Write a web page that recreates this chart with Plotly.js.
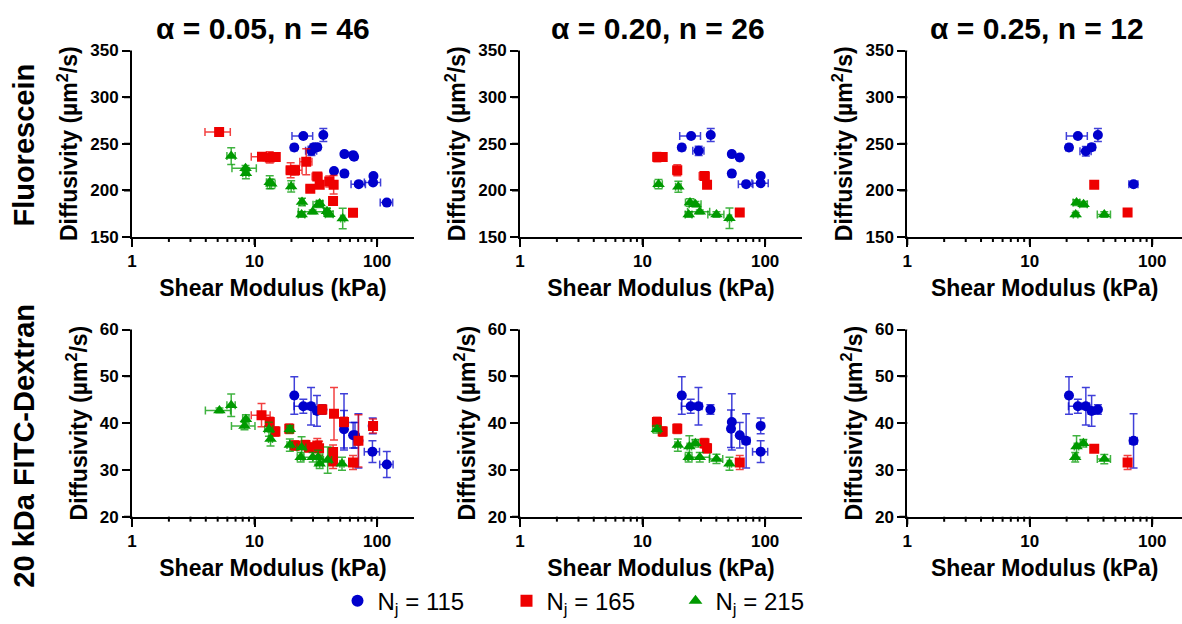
<!DOCTYPE html>
<html>
<head>
<meta charset="utf-8">
<script src="https://cdn.plot.ly/plotly-3.0.1.min.js"></script>
<style>html,body{margin:0;padding:0;background:#fff;}#chart{width:1182px;height:624px;}</style>
</head>
<body>
<div id="chart"></div>
<script>
// ---------- Data ----------
const groupNames = ["N<sub>j</sub> = 115", "N<sub>j</sub> = 165", "N<sub>j</sub> = 215"];
const columnTitles = ["α = 0.05, n = 46", "α = 0.20, n = 26", "α = 0.25, n = 12"];
const rowTitles = ["Fluorescein", "20 kDa FITC-Dextran"];
const xTickVals = [1, 10, 100];
const xTickText = ["1", "10", "100"];
const xMinorVals = [2, 3, 4, 5, 6, 7, 8, 9, 20, 30, 40, 50, 60, 70, 80, 90];
const yTickValsTop = [150, 200, 250, 300, 350];
const yTickValsBottom = [20, 30, 40, 50, 60];

// Fluorescein, alpha = 0.05
const fA_b_x = [25.0, 36.4, 21.1, 29.1, 30.5, 32.5, 54.1, 63.7, 64.9, 44.5, 54.1, 70.8, 93.3, 92.7, 120];
const fA_b_y = [258.3, 259.4, 246.0, 242.4, 246.3, 246.3, 238.9, 237.8, 236.1, 220.8, 218.0, 206.7, 215.5, 208.5, 186.9];
const fA_b_xe = [4.8, 1.5, 1.2, 3, 2, 2, 2.5, 3, 3, 1.5, 2, 9.5, 3, 14, 14];
const fA_b_ye = [2, 7, 2, 5, 3, 2, 2, 2, 2, 2, 3, 2, 2, 2, 2];
const fA_r_x = [5.14, 11.5, 13.3, 14.2, 14.9, 19.7, 21.4, 26.4, 28.5, 32.5, 34.0, 40.7, 44.2, 43.7, 63.6];
const fA_r_y = [262.6, 236.1, 235.3, 235.7, 235.7, 221.6, 221.6, 230.7, 201.7, 214.8, 206.0, 209.5, 206.0, 188.6, 175.9];
const fA_r_xe = [1.2, 2.1, 1.5, 1, 1, 1.5, 3, 3, 2, 3, 2, 2, 2, 1.5, 2];
const fA_r_ye = [2, 2, 6, 3, 3, 8, 5, 14, 2, 3, 3, 6, 10, 3, 2];
const fA_g_x = [6.45, 8.44, 8.5, 13.3, 13.7, 19.9, 24.4, 24.2, 29.8, 33.0, 34.0, 39.0, 40.8, 52.4];
const fA_g_y = [236.8, 223.7, 218.4, 208.8, 207.0, 204.2, 187.6, 174.1, 177.0, 184.7, 185.8, 177.7, 174.5, 169.9];
const fA_g_xe = [0.5, 1.9, 0.5, 0.8, 1, 1, 1, 1.5, 7, 3, 2, 2, 3, 2];
const fA_g_ye = [9, 3, 6, 7, 5, 6, 4, 3, 2, 3, 3, 3, 3, 11];

// Fluorescein, alpha = 0.20
const fB_b_x = [24.9, 36.0, 20.9, 28.7, 53.5, 62.1, 53.5, 70.0, 92.0, 92.0];
const fB_b_y = [258.4, 259.4, 246.0, 242.4, 238.9, 235.3, 218.0, 206.7, 215.5, 207.7];
const fB_b_xe = [4.8, 1.5, 1.2, 3, 2.5, 3, 2, 9.5, 3, 14];
const fB_b_ye = [2, 7, 2, 5, 2, 2, 3, 2, 2, 2];
const fB_r_x = [13.2, 14.6, 19.2, 32.0, 33.6, 62.1];
const fB_r_y = [235.7, 235.7, 221.6, 215.5, 206.0, 176.3];
const fB_r_xe = [1, 1, 1.5, 3, 2, 2];
const fB_r_ye = [5, 3, 6, 2, 3, 2];
const fB_g_x = [13.5, 19.6, 24.4, 27.0, 23.8, 29.3, 40.1, 51.2];
const fB_g_y = [206.7, 203.9, 186.9, 185.1, 174.1, 177.0, 174.1, 170.2];
const fB_g_xe = [1, 1, 2, 3, 1.5, 6, 6, 2];
const fB_g_ye = [5, 6, 4, 3, 3, 2, 3, 11];

// Fluorescein, alpha = 0.25
const fC_b_x = [24.7, 36.0, 20.9, 28.7, 32.0, 70.4];
const fC_b_y = [258.4, 259.4, 246.0, 242.0, 246.3, 206.7];
const fC_b_xe = [4.8, 1.5, 1.2, 3, 2, 6];
const fC_b_ye = [2, 7, 2, 5, 3, 2];
const fC_r_x = [33.6, 62.9];
const fC_r_y = [206.0, 176.3];
const fC_r_xe = [1.5, 2];
const fC_r_ye = [2, 2];
const fC_g_x = [24.1, 27.5, 23.7, 40.6];
const fC_g_y = [186.9, 185.1, 174.1, 174.1];
const fC_g_xe = [1.5, 2, 1, 5];
const fC_g_ye = [3, 3, 2, 3];

// 20 kDa FITC-Dextran, alpha = 0.05
const dA_b_x = [21.1, 25.0, 28.9, 32.3, 35.8, 53.7, 53.7, 63.7, 66.0, 70.4, 92.0, 91.6, 120];
const dA_b_y = [45.9, 43.6, 43.6, 42.6, 42.9, 40.25, 38.7, 37.4, 37.4, 36.2, 39.4, 33.9, 31.15];
const dA_b_xe = [1, 4, 2, 2, 1.5, 2, 2, 2, 2, 5, 2, 13, 15];
const dA_b_ye = [4, 1.5, 4, 3.3, 1, 6, 4, 2.7, 2.7, 5.8, 1.7, 2.3, 2.8];
const dA_r_x = [11.4, 13.3, 14.8, 19.2, 21.4, 26.0, 27.8, 32.5, 33.6, 35.7, 44.5, 43.7, 43.7, 53.7, 70.4, 63.6, 92.7];
const dA_r_y = [41.7, 40.25, 38.2, 38.8, 35.2, 35.3, 34.8, 35.2, 34.6, 42.9, 42.0, 33.8, 31.8, 40.25, 36.2, 31.6, 39.4];
const dA_r_xe = [2, 1, 1, 1, 1.5, 2, 2, 2, 2, 1.5, 2, 2, 2, 2, 4, 2, 2];
const dA_r_ye = [2.5, 1, 1, 1, 1, 1, 1, 1.5, 1.5, 1, 5.6, 1.5, 1.5, 1, 5.6, 1.5, 1.5];
const dA_g_x = [5.17, 6.45, 8.28, 8.5, 13.1, 13.5, 19.4, 19.4, 23.8, 24.2, 29.8, 33.0, 34.0, 39.5, 51.7];
const dA_g_y = [42.7, 43.8, 39.4, 40.8, 38.7, 36.6, 38.7, 35.3, 32.7, 34.8, 32.7, 32.7, 31.3, 32.1, 31.3];
const dA_g_xe = [1.2, 0.5, 1.8, 0.5, 1, 0.5, 1, 1, 1.5, 2, 5, 3, 2, 3, 2];
const dA_g_ye = [0.5, 2.4, 0.8, 1, 1.5, 1.5, 0.8, 1.3, 1, 2.3, 1, 1.5, 1, 2.8, 1.4];

// 20 kDa FITC-Dextran, alpha = 0.20
const dB_b_x = [20.9, 24.7, 28.6, 35.8, 53.5, 52.7, 62.1, 70.0, 92.0, 92.0];
const dB_b_y = [45.9, 43.6, 43.6, 42.9, 40.25, 38.8, 37.4, 36.2, 39.4, 33.9];
const dB_b_xe = [1, 4, 2, 1.5, 2, 2, 2, 5, 2, 13];
const dB_b_ye = [4, 1.5, 4, 1, 6, 4, 2.7, 5.8, 1.7, 2.3];
const dB_r_x = [13.1, 14.6, 19.2, 32.0, 33.6, 62.1];
const dB_r_y = [40.25, 38.2, 38.8, 35.7, 34.6, 31.6];
const dB_r_xe = [1, 1, 1, 1.5, 1, 2];
const dB_r_ye = [1, 1, 1, 1, 1, 1.5];
const dB_g_x = [13.1, 19.4, 24.1, 27.0, 23.8, 29.3, 40.1, 51.2];
const dB_g_y = [38.7, 35.3, 35.0, 35.7, 32.7, 32.7, 32.35, 31.3];
const dB_g_xe = [1, 1, 1, 1.5, 1.5, 6, 5, 2];
const dB_g_ye = [0.8, 1.3, 2.3, 0.8, 1, 1, 1, 1.4];

// 20 kDa FITC-Dextran, alpha = 0.25
const dC_b_x = [20.9, 24.7, 28.7, 32.0, 36.0, 70.4];
const dC_b_y = [45.9, 43.6, 43.6, 42.6, 42.9, 36.2];
const dC_b_xe = [1, 4, 2, 2, 1.5, 5];
const dC_b_ye = [4, 1.5, 4, 3.3, 1, 5.8];
const dC_r_x = [33.6, 62.9];
const dC_r_y = [34.5, 31.6];
const dC_r_xe = [1.5, 2];
const dC_r_ye = [0.5, 1.5];
const dC_g_x = [24.1, 27.4, 23.5, 40.6];
const dC_g_y = [35.0, 35.7, 32.7, 32.3];
const dC_g_xe = [1, 1.5, 1, 5];
const dC_g_ye = [2.3, 0.8, 1, 1];

// ---------- Styling ----------
const FONT = "Liberation Sans, Arial, Helvetica, sans-serif";
const colors = ["#0000CC", "#EE0000", "#009A00"];
const errColors = ["rgba(0,0,204,0.75)", "rgba(238,0,0,0.75)", "rgba(0,154,0,0.75)"];
const symbols = ["circle", "square", "triangle-up"];
const sizes = [10, 10, 11];

const panels = [
  [[fA_b_x, fA_b_y, fA_b_xe, fA_b_ye], [fA_r_x, fA_r_y, fA_r_xe, fA_r_ye], [fA_g_x, fA_g_y, fA_g_xe, fA_g_ye]],
  [[fB_b_x, fB_b_y, fB_b_xe, fB_b_ye], [fB_r_x, fB_r_y, fB_r_xe, fB_r_ye], [fB_g_x, fB_g_y, fB_g_xe, fB_g_ye]],
  [[fC_b_x, fC_b_y, fC_b_xe, fC_b_ye], [fC_r_x, fC_r_y, fC_r_xe, fC_r_ye], [fC_g_x, fC_g_y, fC_g_xe, fC_g_ye]],
  [[dA_b_x, dA_b_y, dA_b_xe, dA_b_ye], [dA_r_x, dA_r_y, dA_r_xe, dA_r_ye], [dA_g_x, dA_g_y, dA_g_xe, dA_g_ye]],
  [[dB_b_x, dB_b_y, dB_b_xe, dB_b_ye], [dB_r_x, dB_r_y, dB_r_xe, dB_r_ye], [dB_g_x, dB_g_y, dB_g_xe, dB_g_ye]],
  [[dC_b_x, dC_b_y, dC_b_xe, dC_b_ye], [dC_r_x, dC_r_y, dC_r_xe, dC_r_ye], [dC_g_x, dC_g_y, dC_g_xe, dC_g_ye]]
];

const W = 1182, H = 624;
const xDomainsPx = [[132, 414], [520, 802], [907.3, 1182]];
const yDomainsPx = [[51, 239.3], [332.7, 521.7]];
const xRanges = [[0, Math.log10(200)], [0, Math.log10(200)], [0, Math.log10(175)]];
const yRanges = [[150, 350], [20, 60]];
const yTickSets = [yTickValsTop, yTickValsBottom];
const yDticks = [50, 10];
const MAJOR_LEN = 8, MINOR_LEN = 5;

const traces = [];
panels.forEach((panel, p) => {
  const sfx = p === 0 ? "" : String(p + 1);
  panel.forEach((g, gi) => {
    traces.push({
      type: "scatter", mode: "markers",
      x: g[0], y: g[1],
      xaxis: "x" + sfx, yaxis: "y" + sfx,
      name: groupNames[gi], legendgroup: "g" + gi, showlegend: p === 0,
      marker: {symbol: symbols[gi], size: sizes[gi], color: colors[gi]},
      error_x: {type: "data", array: g[2], visible: true, color: errColors[gi], thickness: 1.5, width: 4},
      error_y: {type: "data", array: g[3], visible: true, color: errColors[gi], thickness: 1.5, width: 4}
    });
  });
});

const tickFont = {family: FONT, size: 17, color: "#000", weight: "bold"};
const titleFont = {family: FONT, size: 23, color: "#000", weight: "bold"};

const layout = {
  width: W, height: H,
  margin: {l: 0, r: 0, t: 0, b: 0},
  paper_bgcolor: "#fff", plot_bgcolor: "#fff",
  showlegend: true,
  legend: {
    orientation: "h", x: 0.5, xanchor: "center", y: 1 - 607 / H, yanchor: "middle",
    font: {family: FONT, size: 24, color: "#000"},
    entrywidth: 124, itemsizing: "constant", bgcolor: "rgba(0,0,0,0)"
  },
  annotations: [],
  shapes: []
};

for (let p = 0; p < 6; p++) {
  const sfx = p === 0 ? "" : String(p + 1);
  const col = p % 3, row = Math.floor(p / 3);
  const xd = xDomainsPx[col], yd = yDomainsPx[row];
  layout["xaxis" + sfx] = {
    type: "log", domain: [xd[0] / W, Math.min(1, xd[1] / W)], range: xRanges[col],
    anchor: "y" + sfx,
    tickmode: "array", tickvals: xTickVals, ticktext: xTickText,
    ticks: "outside", ticklen: MAJOR_LEN, tickwidth: 2, tickcolor: "#000",
    showline: true, linewidth: 2, linecolor: "#000",
    showgrid: false, zeroline: false, tickfont: tickFont,
    title: {text: "Shear Modulus (kPa)", font: titleFont, standoff: 10}
  };
  layout["yaxis" + sfx] = {
    domain: [1 - yd[1] / H, 1 - yd[0] / H], range: yRanges[row], dtick: yDticks[row],
    anchor: "x" + sfx,
    ticks: "outside", ticklen: MAJOR_LEN, tickwidth: 2, tickcolor: "#000",
    showline: true, linewidth: 2, linecolor: "#000",
    showgrid: false, zeroline: false, tickfont: tickFont,
    title: {text: "Diffusivity (µm<sup>2</sup>/s)", font: titleFont, standoff: 6}
  };
  // Tick marks drawn as axis-referenced shapes (x from the log axis, y from the linear axis)
  const yBase = 1 - yd[1] / H;
  const xMax = Math.pow(10, xRanges[col][1]);
  xTickVals.concat(xMinorVals).forEach(v => {
    if (v > xMax) return;
    const len = xTickVals.includes(v) ? MAJOR_LEN : MINOR_LEN;
    layout.shapes.push({type: "line", xref: "x" + sfx, yref: "paper", x0: v, x1: v, y0: yBase, y1: yBase - len / H,
      line: {color: "#000", width: 2}, layer: "above"});
  });
  const xBase = xd[0] / W;
  yTickSets[row].forEach(v => {
    layout.shapes.push({type: "line", xref: "paper", yref: "y" + sfx, x0: xBase, x1: xBase - MAJOR_LEN / W, y0: v, y1: v,
      line: {color: "#000", width: 2}, layer: "above"});
  });
}

const colCenters = [263, 658, 1037];
columnTitles.forEach((t, i) => {
  layout.annotations.push({
    text: t, xref: "paper", yref: "paper", x: colCenters[i] / W, y: 1 - 29 / H,
    xanchor: "center", yanchor: "middle", showarrow: false,
    font: {family: FONT, size: 30, color: "#000", weight: "bold"}
  });
});
const rowCenters = [147, 450];
rowTitles.forEach((t, i) => {
  layout.annotations.push({
    text: t, xref: "paper", yref: "paper", x: 24 / W, y: 1 - rowCenters[i] / H,
    xanchor: "center", yanchor: "middle", showarrow: false, textangle: -90,
    font: {family: FONT, size: 29, color: "#000", weight: "bold"}
  });
});

Plotly.newPlot("chart", traces, layout, {staticPlot: true, displayModeBar: false});
</script>
</body>
</html>
